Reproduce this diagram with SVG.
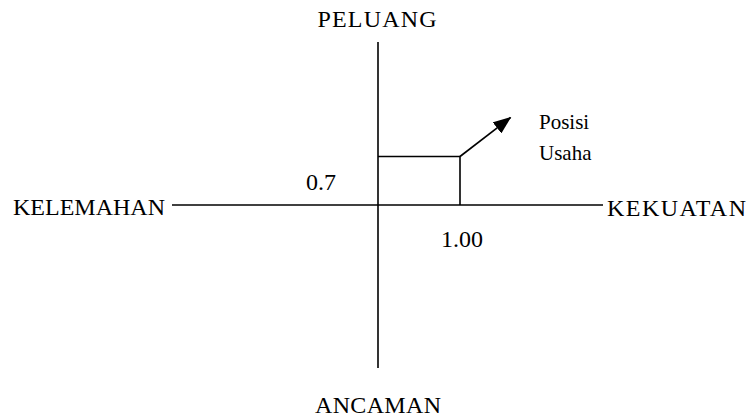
<svg xmlns="http://www.w3.org/2000/svg" width="754" height="419" viewBox="0 0 754 419">
<style>
  text { font-family: 'Liberation Serif', 'Times New Roman', 'DejaVu Serif', serif; fill: #000; }
  .lbl { font-size: 24px; }
  .sm { font-size: 21px; }
  .ln { stroke: #000; stroke-width: 1.6; fill: none; }
</style>
<defs>
  <marker id="ah2" viewBox="0 0 18 14" refX="17" refY="7" markerWidth="18" markerHeight="14" orient="auto" markerUnits="userSpaceOnUse">
    <path d="M0,0 L18,7 L0,14 z" fill="#000"/>
  </marker>
</defs>
<g id="connectors">
  <line class="ln" x1="378" y1="42" x2="378" y2="368"/>
  <line class="ln" x1="172" y1="205" x2="603" y2="205"/>
  <polyline class="ln" points="378,156.5 460,156.5 460,205"/>
  <line class="ln" x1="460" y1="156.5" x2="510.5" y2="117.5" stroke-width="2.4" marker-end="url(#ah2)"/>
</g>
<g id="node-peluang"><text class="lbl" x="377" y="27" text-anchor="middle" textLength="119" lengthAdjust="spacing">PELUANG</text></g>
<g id="node-ancaman"><text class="lbl" x="378" y="413" text-anchor="middle" textLength="126" lengthAdjust="spacing">ANCAMAN</text></g>
<g id="node-kelemahan"><text class="lbl" x="13" y="215">KELEMAHAN</text></g>
<g id="node-kekuatan"><text class="lbl" x="607" y="216" textLength="139" lengthAdjust="spacing">KEKUATAN</text></g>
<g id="node-07"><text class="lbl" x="306" y="190">0.7</text></g>
<g id="node-100"><text class="lbl" x="441" y="247">1.00</text></g>
<g id="node-posisi"><text class="sm" x="539" y="129">Posisi</text><text class="sm" x="539" y="160">Usaha</text></g>
</svg>
